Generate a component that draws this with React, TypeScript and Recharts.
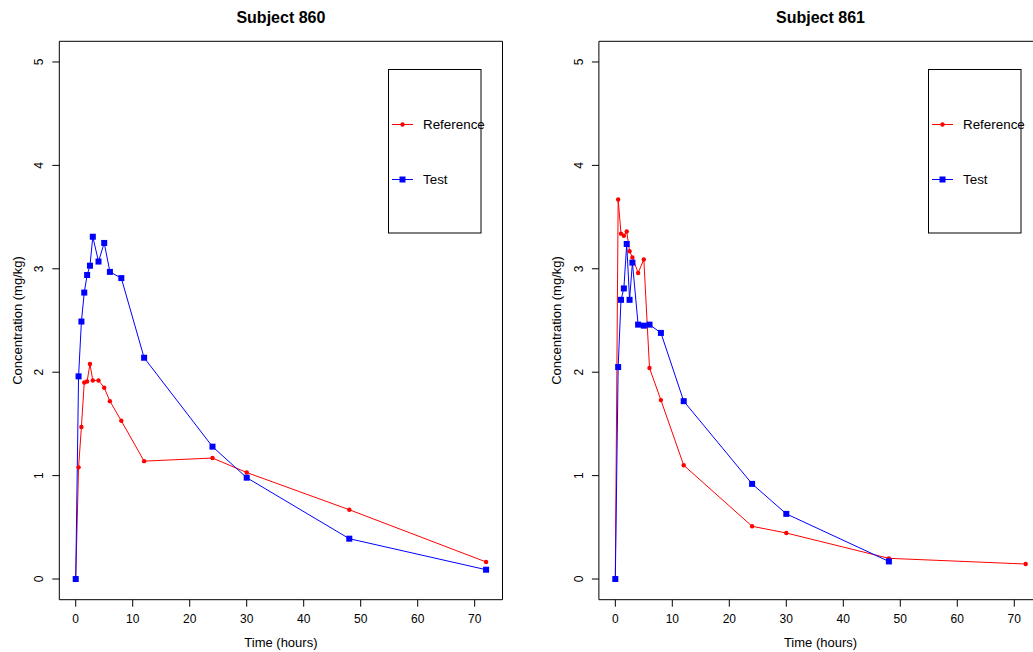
import React from "react";
import { Customized, Legend, Line, LineChart, ReferenceArea, XAxis, YAxis } from "recharts";

const times = [0, 0.5, 1, 1.5, 2, 2.5, 3, 4, 5, 6, 8, 12, 24, 30, 48, 72];

const ref860 = [0, 1.08, 1.47, 1.9, 1.91, 2.08, 1.92, 1.92, 1.85, 1.72, 1.53, 1.14, 1.17, 1.03, 0.67, 0.165];
const test860 = [0, 1.96, 2.49, 2.77, 2.94, 3.03, 3.31, 3.07, 3.25, 2.97, 2.91, 2.14, 1.28, 0.98, 0.39, 0.09];

const ref861 = [0, 3.67, 3.34, 3.32, 3.36, 3.17, 3.11, 2.96, 3.09, 2.04, 1.73, 1.1, 0.51, 0.445, 0.2, 0.145];
const test861 = [0, 2.05, 2.7, 2.81, 3.24, 2.7, 3.06, 2.46, 2.45, 2.46, 2.38, 1.72, 0.92, 0.63, 0.17, null];

const xTicks = [0, 10, 20, 30, 40, 50, 60, 70];
const yTicks = [0, 1, 2, 3, 4, 5];

const FONT = '"Liberation Sans", Arial, Helvetica, sans-serif';
const RED = "#ff0000";
const BLUE = "#0000ff";

const W = 540;
const H = 652;
const TOP = 41.3;
const PLOT_BOTTOM = 599.7;
const AXIS_W = 30;
const AXIS_H = 30;

function RedDot(props: any) {
  const { cx, cy, index } = props;
  if (cx == null || cy == null) return <g key={`r${index}`} />;
  return <circle key={`r${index}`} cx={cx} cy={cy} r={2.2} fill={RED} />;
}

function BlueDot(props: any) {
  const { cx, cy, index } = props;
  if (cx == null || cy == null) return <g key={`b${index}`} />;
  return <rect key={`b${index}`} x={cx - 3} y={cy - 3} width={6} height={6} fill={BLUE} />;
}

function LegendBox() {
  return (
    <svg width={94} height={165} style={{ display: "block", fontFamily: FONT, overflow: "visible" }}>
      <rect x={0.5} y={0.5} width={92.5} height={163.5} fill="#fff" stroke="#000" />
      <line x1={4} x2={25} y1={55.5} y2={55.5} stroke={RED} />
      <circle cx={14.5} cy={55.5} r={2.2} fill={RED} />
      <text x={35} y={55.5} fontSize={13.4} dominantBaseline="central" fill="#000">
        Reference
      </text>
      <line x1={4} x2={25} y1={110.5} y2={110.5} stroke={BLUE} />
      <rect x={11.5} y={107.5} width={6} height={6} fill={BLUE} />
      <text x={35} y={110.5} fontSize={13.4} dominantBaseline="central" fill="#000">
        Test
      </text>
    </svg>
  );
}

function Panel({
  title,
  left,
  plotLeft,
  plotRight,
  reference,
  test,
}: {
  title: string;
  left: number;
  plotLeft: number;
  plotRight: number;
  reference: (number | null)[];
  test: (number | null)[];
}) {
  const data = times.map((t, i) => ({ t, ref: reference[i], test: test[i] }));
  const midX = (plotLeft + plotRight) / 2;
  const midY = (TOP + PLOT_BOTTOM) / 2;

  const yTick = (p: any) => {
    const tx = plotLeft - 20;
    return (
      <text
        x={tx}
        y={p.y}
        transform={`rotate(-90, ${tx}, ${p.y})`}
        textAnchor="middle"
        dominantBaseline="central"
        fontSize={12}
        fill="#000"
        fontFamily={FONT}
      >
        {p.payload.value}
      </text>
    );
  };

  const Titles = () => (
    <g fontFamily={FONT} fill="#000">
      <text x={midX} y={17} textAnchor="middle" dominantBaseline="central" fontSize={16} fontWeight="bold">
        {title}
      </text>
      <text x={midX} y={642} textAnchor="middle" dominantBaseline="central" fontSize={13}>
        Time (hours)
      </text>
      <text
        x={plotLeft - 42}
        y={midY}
        transform={`rotate(-90, ${plotLeft - 42}, ${midY})`}
        textAnchor="middle"
        dominantBaseline="central"
        fontSize={13}
      >
        Concentration (mg/kg)
      </text>
    </g>
  );

  return (
    <div style={{ position: "absolute", left, top: 0 }}>
      <LineChart
        width={W}
        height={H}
        data={data}
        margin={{
          top: TOP,
          right: W - plotRight,
          bottom: H - PLOT_BOTTOM - AXIS_H,
          left: plotLeft - AXIS_W,
        }}
        style={{ fontFamily: FONT }}
      >
        <XAxis
          dataKey="t"
          type="number"
          domain={[-2.88, 74.88]}
          allowDataOverflow
          ticks={xTicks}
          height={AXIS_H}
          axisLine={false}
          tickLine={{ stroke: "#000" }}
          tickSize={7}
          tickMargin={8}
          tick={{ fill: "#000", fontSize: 12, fontFamily: FONT }}
          interval={0}
        />
        <YAxis
          type="number"
          domain={[-0.2, 5.2]}
          allowDataOverflow
          ticks={yTicks}
          width={AXIS_W}
          axisLine={false}
          tickLine={{ stroke: "#000" }}
          tickSize={7}
          tick={yTick}
          interval={0}
        />
        <ReferenceArea
          x1={-2.88}
          x2={74.88}
          y1={-0.2}
          y2={5.2}
          fill="none"
          fillOpacity={0}
          stroke="#000"
          strokeWidth={1}
          ifOverflow="visible"
        />
        <Line
          type="linear"
          dataKey="ref"
          name="Reference"
          stroke={RED}
          strokeWidth={1}
          dot={RedDot}
          activeDot={false}
          isAnimationActive={false}
        />
        <Line
          type="linear"
          dataKey="test"
          name="Test"
          stroke={BLUE}
          strokeWidth={1}
          dot={BlueDot}
          activeDot={false}
          isAnimationActive={false}
        />
        <Legend
          layout="vertical"
          align="center"
          verticalAlign="middle"
          wrapperStyle={{ left: 388, top: 69, width: 94, height: 165 }}
          content={() => <LegendBox />}
        />
        <Customized component={Titles} />
      </LineChart>
    </div>
  );
}

export default function App() {
  return (
    <div
      style={{
        position: "absolute",
        left: 0,
        top: 0,
        width: 1033,
        height: 652,
        overflow: "hidden",
        background: "#fff",
        fontFamily: FONT,
      }}
    >
      <Panel title="Subject 860" left={0} plotLeft={59.3} plotRight={502.5} reference={ref860} test={test860} />
      <Panel title="Subject 861" left={540} plotLeft={58.9} plotRight={502.1} reference={ref861} test={test861} />
    </div>
  );
}
